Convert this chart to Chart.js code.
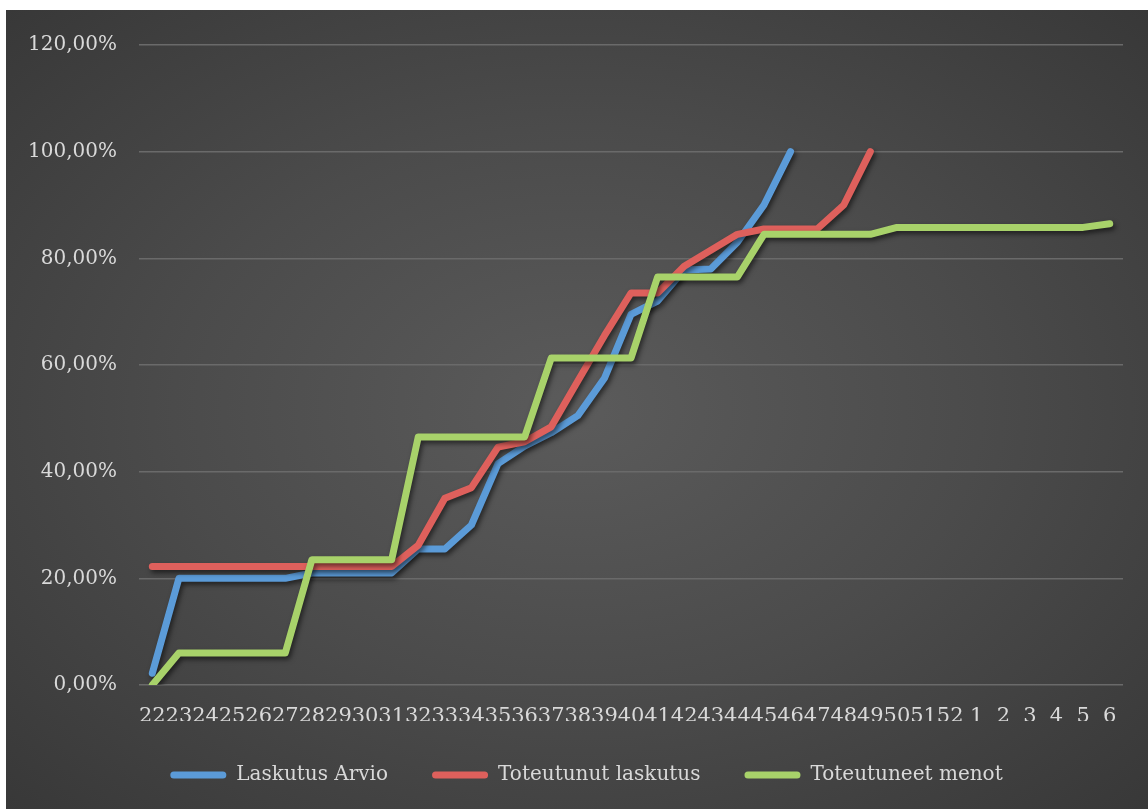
<!DOCTYPE html>
<html>
<head>
<meta charset="utf-8">
<script src="https://cdn.jsdelivr.net/npm/chart.js@4"></script>
<style>
  html, body { margin: 0; padding: 0; background: #ffffff; }
  body { width: 1148px; height: 809px; position: relative; overflow: hidden; }
  #frame {
    position: absolute; left: 6px; top: 10px; width: 1142px; height: 799px;
    background: radial-gradient(ellipse at 50% 50%, #5b5b5b 0%, #4b4b4b 50%, #383838 100%);
  }
  #chart { display: block; }
</style>
</head>
<body>
<div id="frame"><canvas id="chart" width="1142" height="799"></canvas></div>
<script>
// Weeks 22..52 of the first year, then 1..6 of the next
const weeks = ['22','23','24','25','26','27','28','29','30','31','32','33','34','35','36','37',
  '38','39','40','41','42','43','44','45','46','47','48','49','50','51','52','1','2','3','4','5','6'];

// Cumulative shares, in percent
const laskutusArvio = [2.2, 20, 20, 20, 20, 20, 21, 21, 21, 21, 25.5, 25.5, 30, 41.5, 44.8,
  47.3, 50.5, 57.5, 69.5, 72, 77.8, 78, 83, 90, 100,
  null, null, null, null, null, null, null, null, null, null, null, null];

const toteutunutLaskutus = [22.2, 22.2, 22.2, 22.2, 22.2, 22.2, 22.2, 22.2, 22.2, 22.2, 26.2, 35, 37,
  44.6, 45.6, 48.4, 57, 65.5, 73.5, 73.5, 78.5, 81.5, 84.5, 85.5, 85.5, 85.5, 90, 100,
  null, null, null, null, null, null, null, null, null];

const toteutuneetMenot = [0, 6, 6, 6, 6, 6, 23.5, 23.5, 23.5, 23.5, 46.5, 46.5, 46.5, 46.5, 46.5,
  61.3, 61.3, 61.3, 61.3, 76.5, 76.5, 76.5, 76.5, 84.5, 84.5, 84.5, 84.5, 84.5,
  85.8, 85.8, 85.8, 85.8, 85.8, 85.8, 85.8, 85.8, 86.5];

const yTicks = { min: 0, max: 120, step: 20 };

const seriesNames = ['Laskutus Arvio', 'Toteutunut laskutus', 'Toteutuneet menot'];
const seriesColors = ['#5B9BD8', '#DE605C', '#A8D26A'];

const textColor = '#d9d9d9';
const fontFamily = '"DejaVu Serif", "Liberation Serif", serif';

// Soft drop shadow under each line
const lineShadow = {
  id: 'lineShadow',
  beforeDatasetDraw(chart) {
    const ctx = chart.ctx;
    ctx.save();
    ctx.shadowColor = 'rgba(0,0,0,0.55)';
    ctx.shadowBlur = 5;
    ctx.shadowOffsetX = 2;
    ctx.shadowOffsetY = 3;
  },
  afterDatasetDraw(chart) {
    chart.ctx.restore();
  }
};

// Nudge the legend row a little to the right of its default centre
const legendNudge = {
  id: 'legendNudge',
  beforeDraw(chart) {
    const lg = chart.legend;
    if (lg && !lg._nudged) {
      lg.left += 22;
      lg.right += 22;
      lg._nudged = true;
    }
  }
};

function makeDataset(i, values, order) {
  return {
    label: seriesNames[i],
    data: values,
    borderColor: seriesColors[i],
    backgroundColor: seriesColors[i],
    borderWidth: 7,
    borderCapStyle: 'round',
    borderJoinStyle: 'round',
    pointRadius: 0,
    pointHoverRadius: 0,
    tension: 0,
    fill: false,
    order: order
  };
}

new Chart(document.getElementById('chart'), {
  type: 'line',
  data: {
    labels: weeks,
    datasets: [
      makeDataset(0, laskutusArvio, 2),
      makeDataset(1, toteutunutLaskutus, 1),
      makeDataset(2, toteutuneetMenot, 0)
    ]
  },
  plugins: [lineShadow, legendNudge],
  options: {
    responsive: false,
    animation: false,
    events: [],
    layout: { padding: { left: 0, right: 25, top: 35, bottom: 14 } },
    scales: {
      x: {
        type: 'category',
        offset: true,
        grid: { display: false, drawTicks: false },
        border: { display: false },
        ticks: {
          autoSkip: false,
          maxRotation: 0,
          minRotation: 0,
          padding: 19,
          color: textColor,
          font: { family: fontFamily, size: 21 }
        },
        afterFit(scale) { scale.height = 36; }
      },
      y: {
        min: yTicks.min,
        max: yTicks.max,
        grid: { color: '#6a6a6a', lineWidth: 1.5, drawTicks: false },
        border: { display: false },
        ticks: {
          stepSize: yTicks.step,
          padding: 22,
          color: textColor,
          font: { family: fontFamily, size: 20 },
          callback: (v) => v.toFixed(2).replace('.', ',') + '%'
        },
        afterFit(scale) { scale.width = 133; }
      }
    },
    plugins: {
      tooltip: { enabled: false },
      legend: {
        position: 'bottom',
        labels: {
          color: textColor,
          font: { family: fontFamily, size: 20 },
          boxWidth: 56,
          boxHeight: 7,
          padding: 44,
          useBorderRadius: true,
          borderRadius: 3.5,
          generateLabels(chart) {
            return chart.data.datasets.map((ds, i) => ({
              text: ds.label,
              fillStyle: ds.borderColor,
              strokeStyle: ds.borderColor,
              fontColor: textColor,
              lineWidth: 0,
              hidden: false,
              datasetIndex: i,
              borderRadius: 3.5
            }));
          }
        }
      }
    }
  }
});
</script>
</body>
</html>
